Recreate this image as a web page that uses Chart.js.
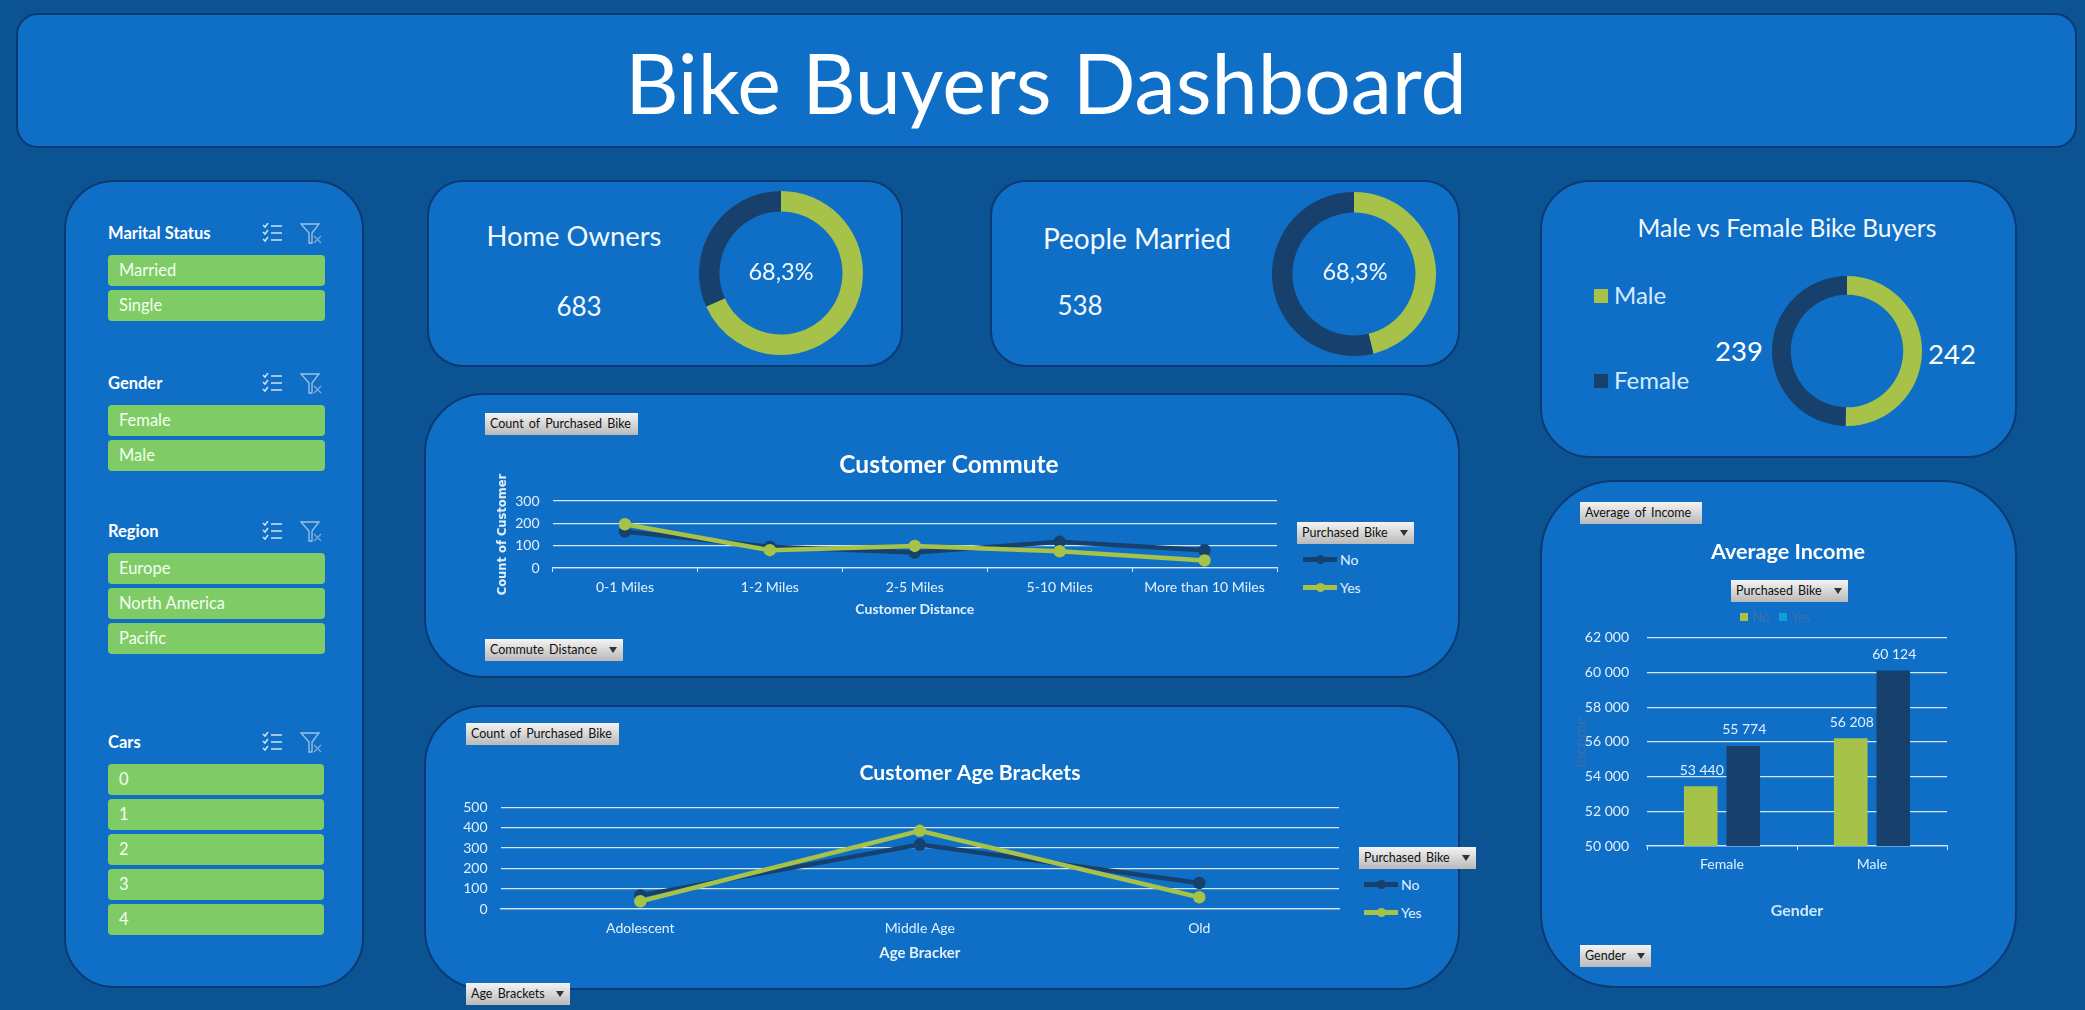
<!DOCTYPE html>
<html>
<head>
<meta charset="utf-8">
<title>Bike Buyers Dashboard</title>
<script src="https://cdn.jsdelivr.net/npm/chart.js@4"></script>
<style>
html, body { margin: 0; padding: 0; width: 2085px; height: 1010px; overflow: hidden; background: #0c5394; font-family: Lato, sans-serif; }
#page { position: relative; width: 2085px; height: 1010px; overflow: hidden; }
.panel { position: absolute; box-sizing: border-box; background: #0f6fc6; border: 2.5px solid #0b3a72; }
.txt { position: absolute; white-space: nowrap; color: #fff; transform: translate(-50%, -50%); }
.left { transform: translate(0, -50%); }
.btn { position: absolute; box-sizing: border-box; height: 22px; line-height: 22px; padding-left: 5px; color: #111; font-size: 12.5px; word-spacing: 2px; white-space: nowrap;
  background: linear-gradient(#f4f4f4, #b9b9b9); }
.btn.arrow::after { content: ""; position: absolute; right: 6px; top: 8px; border: 4.5px solid transparent; border-top: 6px solid #333; border-bottom: 0; }
.slicer { position: absolute; box-sizing: border-box; height: 31px; line-height: 30px; padding-left: 11px; background: #7fcc66; border-radius: 4px; color: #f2fff0; font-size: 16.5px; }
canvas { position: absolute; }
.mark { position: absolute; height: 5px; width: 34px; }
.mark i { position: absolute; left: 13px; top: -2px; width: 9px; height: 9px; border-radius: 50%; background: inherit; }
svg { position: absolute; }
</style>
</head>
<body>
<div id="page"></div>
<script>
const commuteCats = ['0-1 Miles', '1-2 Miles', '2-5 Miles', '5-10 Miles', 'More than 10 Miles'];
const commuteNo = [163, 95, 69, 117, 80];
const commuteYes = [196, 80, 99, 75, 34];
const ageCats = ['Adolescent', 'Middle Age', 'Old'];
const ageNo = [67, 317, 128];
const ageYes = [38, 385, 58];
const incomeCats = ['Female', 'Male'];
const incomeNo = [53440, 56208];
const incomeYes = [55774, 60124];
const ownerShare = [683, 317];
const marriedShare = [462, 538];
const genderCounts = [242, 239];

const maritalItems = ['Married', 'Single'];
const genderItems = ['Female', 'Male'];
const regionItems = ['Europe', 'North America', 'Pacific'];
const carItems = ['0', '1', '2', '3', '4'];

const GREEN = '#a6c248';
const NAVY = '#17406d';
const GRID = '#d6e6f5';
const LABEL = '#e3f0fb';

Chart.defaults.font.family = 'Lato, sans-serif';
Chart.defaults.color = LABEL;
Chart.defaults.animation = false;

const page = document.getElementById('page');

function add(html) {
  const d = document.createElement('div');
  d.innerHTML = html;
  const el = d.firstElementChild;
  page.appendChild(el);
  return el;
}
function panel(x, y, w, h, r) {
  add(`<div class="panel" style="left:${x - 1}px;top:${y - 1}px;width:${w + 2}px;height:${h + 2}px;border-radius:${r}px"></div>`);
}
function text(s, x, y, size, extra) {
  add(`<div class="txt" style="left:${x}px;top:${y}px;font-size:${size}px;${extra || ''}">${s}</div>`);
}
function ltext(s, x, y, size, extra) {
  add(`<div class="txt left" style="left:${x}px;top:${y}px;font-size:${size}px;${extra || ''}">${s}</div>`);
}
function btn(s, x, y, w, arrow) {
  add(`<div class="btn${arrow ? ' arrow' : ''}" style="left:${x}px;top:${y}px;width:${w}px">${s}</div>`);
}
function canvas(x, y, w, h) {
  const c = document.createElement('canvas');
  c.width = w; c.height = h;
  c.style.cssText = `left:${x}px;top:${y}px;width:${w}px;height:${h}px`;
  page.appendChild(c);
  return c.getContext('2d');
}

// slicers on the left
function slicer(title, items, x, headY, w) {
  ltext(title, x, headY, 16.5, 'font-weight:700');
  add(`<svg style="left:262px;top:${headY - 10}px" width="21" height="20" fill="none" stroke="#cfe3f6" stroke-width="1.5">
    <path d="M1 2l2 2 3-4M1 9l2 2 3-4M1 16l2 2 3-4"/><path d="M9 3h11M9 10h11M9 17h11"/></svg>`);
  add(`<svg style="left:300px;top:${headY - 10}px" width="22" height="21" fill="none" stroke="#9fc3e6" stroke-width="1.3">
    <path d="M1 1h18l-7 9v10h-3V10z"/><path d="M14 13l7 7M21 13l-7 7" stroke="#7ea9d6"/></svg>`);
  items.forEach((it, i) => {
    add(`<div class="slicer" style="left:${x}px;top:${headY + 22 + i * 35}px;width:${w}px">${it}</div>`);
  });
}

function lineLegend(x, y1, y2) {
  add(`<div class="mark" style="left:${x}px;top:${y1 - 2}px;background:${NAVY}"><i></i></div>`);
  ltext('No', x + 37, y1, 14, `color:${LABEL}`);
  add(`<div class="mark" style="left:${x}px;top:${y2 - 2}px;background:${GREEN}"><i></i></div>`);
  ltext('Yes', x + 37, y2, 14, `color:${LABEL}`);
}

function donut(x, y, size, values, cut) {
  new Chart(canvas(x, y, size, size), {
    type: 'doughnut',
    data: { labels: ['Yes', 'No'], datasets: [{ data: values, backgroundColor: [GREEN, NAVY], borderWidth: 0 }] },
    options: { responsive: false, cutout: cut, plugins: { legend: { display: false }, tooltip: { enabled: false } } }
  });
}

function lineChart(box, cats, no, yes, opt) {
  new Chart(canvas(box.x, box.y, box.w, box.h), {
    type: 'line',
    data: {
      labels: cats,
      datasets: [
        { label: 'No', data: no, borderColor: NAVY, backgroundColor: NAVY, borderWidth: 4.5, pointRadius: 4, tension: 0, order: 1 },
        { label: 'Yes', data: yes, borderColor: GREEN, backgroundColor: GREEN, borderWidth: 4.5, pointRadius: 4, tension: 0, order: 0 }
      ]
    },
    options: {
      responsive: false,
      layout: { padding: 0 },
      plugins: {
        legend: { display: false },
        tooltip: { enabled: false },
        title: { display: true, text: opt.title, color: '#fff', font: { size: opt.titleSize, weight: '700' }, padding: { top: 0, bottom: opt.titleGap } }
      },
      scales: {
        x: {
          offset: true,
          grid: { offset: true, drawOnChartArea: false, drawTicks: opt.ticks, tickLength: 4, color: GRID },
          border: { color: GRID, width: 1.3 },
          ticks: { font: { size: 14 }, padding: opt.ticks ? 7 : 11, maxRotation: 0, autoSkip: false, color: LABEL },
          title: { display: true, text: opt.xTitle, color: LABEL, font: { size: opt.xTitleSize, weight: '700' }, padding: 0 },
          afterFit: s => { s.height = opt.xHeight; }
        },
        y: {
          min: 0, max: opt.max,
          grid: { drawTicks: false, color: GRID, lineWidth: 1.3 },
          border: { display: false },
          ticks: { stepSize: 100, font: { size: 14 }, padding: opt.tickPad, color: LABEL },
          title: opt.yTitle ? { display: true, text: opt.yTitle, color: LABEL, font: { family: 'DejaVu Sans', size: 11.5, weight: '700' }, padding: { top: 2, bottom: 0 } } : { display: false },
          afterFit: s => { s.width = opt.yWidth; }
        },
        spare: {
          position: 'right',
          grid: { display: false },
          border: { display: false },
          ticks: { display: false },
          afterFit: s => { s.width = opt.rightGap; }
        }
      }
    }
  });
}

const spaced = v => String(v).replace(/\B(?=(\d{3})+$)/g, ' ');

const barLabels = {
  id: 'barLabels',
  afterDatasetsDraw(chart) {
    const c = chart.ctx;
    c.save();
    c.font = '14px Lato, sans-serif';
    c.fillStyle = LABEL;
    c.textAlign = 'center';
    c.textBaseline = 'middle';
    chart.data.datasets.forEach((ds, i) => {
      chart.getDatasetMeta(i).data.forEach((el, j) => {
        c.fillText(spaced(ds.data[j]), el.x + 1, el.y - 16);
      });
    });
    c.restore();
  }
};

// header
panel(17, 14, 2059, 133, 22);
text('Bike Buyers Dashboard', 1046, 82, 82.7, '');

// sidebar
panel(65, 181, 298, 806, 50);
slicer('Marital Status', maritalItems, 108, 233, 217);
slicer('Gender', genderItems, 108, 383, 217);
slicer('Region', regionItems, 108, 531, 217);
slicer('Cars', carItems, 108, 742, 216);

// KPI cards
panel(428, 181, 474, 185, 36);
text('Home Owners', 574, 235, 27.4, 'color:#f2f8fd');
text('683', 579, 306, 26, 'color:#f2f8fd');
donut(699, 191, 164, ownerShare, '75%');
text('68,3%', 781, 271, 23.5, 'color:#f2f8fd');

panel(991, 181, 468, 185, 36);
text('People Married', 1137, 238, 28, 'color:#f2f8fd');
text('538', 1080, 305, 26, 'color:#f2f8fd');
donut(1272, 192, 164, marriedShare, '75%');
text('68,3%', 1355, 271, 23.5, 'color:#f2f8fd');

// gender card
panel(1541, 181, 475, 276, 50);
text('Male vs Female Bike Buyers', 1787, 227, 24.6, 'color:#f2f8fd');
add(`<div style="position:absolute;left:1594px;top:289px;width:14px;height:14px;background:${GREEN}"></div>`);
ltext('Male', 1614, 294, 24, 'color:#d5ebfd');
add(`<div style="position:absolute;left:1594px;top:374px;width:14px;height:14px;background:${NAVY}"></div>`);
ltext('Female', 1614, 379, 24, 'color:#d5ebfd');
donut(1772, 276, 150, genderCounts, '75%');
text(genderCounts[1], 1739, 350, 27.5);
text(genderCounts[0], 1952, 353, 27.5);

// commute chart
panel(425, 394, 1034, 283, 60);
btn('Count of Purchased Bike', 485, 413, 153);
btn('Commute Distance', 485, 639, 138, true);
btn('Purchased Bike', 1297, 522, 117, true);
lineLegend(1303, 559, 587);
lineChart({ x: 494, y: 450, w: 910, h: 168 }, commuteCats, commuteNo, commuteYes, {
  title: 'Customer Commute', titleSize: 24.5, titleGap: 21.6, ticks: true,
  xTitle: 'Customer Distance', xTitleSize: 14, xHeight: 50,
  yTitle: 'Count of Customer', yWidth: 58.5, rightGap: 127, max: 300, tickPad: 13
});

// age chart
panel(425, 706, 1034, 283, 60);
btn('Count of Purchased Bike', 466, 723, 153);
btn('Age Brackets', 466, 983, 104, true);
btn('Purchased Bike', 1359, 847, 117, true);
lineLegend(1364, 884, 912);
lineChart({ x: 460, y: 760, w: 1020, h: 202 }, ageCats, ageNo, ageYes, {
  title: 'Customer Age Brackets', titleSize: 21.2, titleGap: 22, ticks: false,
  xTitle: 'Age Bracker', xTitleSize: 15, xHeight: 53,
  yTitle: null, yWidth: 40.6, rightGap: 141, max: 500, tickPad: 13
});

// income chart
panel(1541, 481, 475, 506, 75);
btn('Average of Income', 1580, 502, 122);
btn('Gender', 1580, 945, 71, true);
btn('Purchased Bike', 1731, 580, 117, true);
add(`<div style="position:absolute;left:1740px;top:613px;width:8px;height:8px;background:${GREEN}"></div>`);
ltext('No', 1752, 617, 13, 'color:#3f6ea6');
add(`<div style="position:absolute;left:1779px;top:613px;width:8px;height:8px;background:#0f9ed5"></div>`);
ltext('Yes', 1791, 617, 13, 'color:#3f6ea6');

new Chart(canvas(1571, 539, 434, 381), {
  type: 'bar',
  data: {
    labels: incomeCats,
    datasets: [
      { label: 'No', data: incomeNo, backgroundColor: GREEN, categoryPercentage: 0.567, barPercentage: 0.79 },
      { label: 'Yes', data: incomeYes, backgroundColor: NAVY, categoryPercentage: 0.567, barPercentage: 0.79 }
    ]
  },
  options: {
    responsive: false,
    layout: { padding: 0 },
    plugins: {
      legend: { display: false },
      tooltip: { enabled: false },
      title: { display: true, text: 'Average Income', color: '#fff', font: { size: 21.6, weight: '700' }, padding: { top: 0, bottom: 73 } }
    },
    scales: {
      x: {
        grid: { offset: true, drawOnChartArea: false, tickLength: 4, color: GRID },
        border: { color: GRID, width: 1.3 },
        ticks: { font: { size: 14 }, padding: 6, color: LABEL },
        title: { display: true, text: 'Gender', color: '#cfe6fb', font: { size: 16, weight: '700' }, padding: 0 },
        afterFit: s => { s.height = 74; }
      },
      y: {
        min: 50000, max: 62000,
        grid: { drawTicks: false, color: GRID, lineWidth: 1.3 },
        border: { display: false },
        ticks: { stepSize: 2000, font: { size: 14 }, padding: 18, color: LABEL, callback: v => spaced(v) },
        title: { display: true, text: 'Income', color: '#3f6ea6', font: { size: 16 }, padding: 0 },
        afterFit: s => { s.width = 76; }
      },
      spare: {
        position: 'right',
        grid: { display: false },
        border: { display: false },
        ticks: { display: false },
        afterFit: s => { s.width = 58; }
      }
    }
  },
  plugins: [barLabels]
});
</script>
</body>
</html>
